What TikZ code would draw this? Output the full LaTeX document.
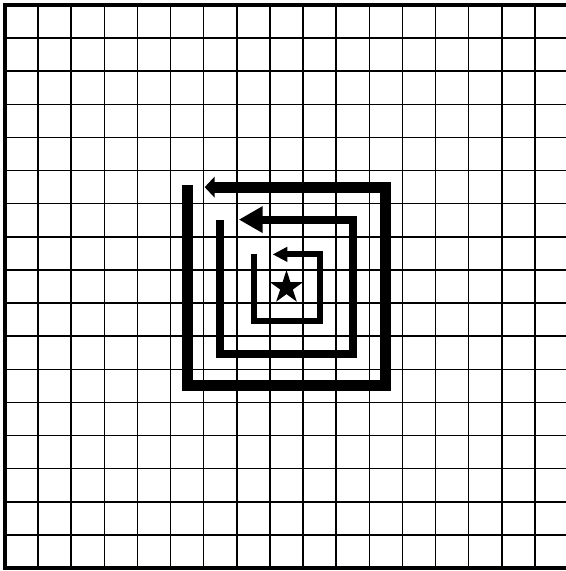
\documentclass[tikz,border=0pt]{standalone}
\usetikzlibrary{arrows.meta}
\begin{document}
\begin{tikzpicture}[
  gridline/.style={line width=1.3pt, black},
  frameline/.style={line width=3.4pt, black},
  outerspiral/.style={line width=0.332cm, -{Triangle[length=0.30cm,width=0.62cm]}},
  midspiral/.style={line width=0.245cm, -{Triangle[length=0.72cm,width=0.76cm]}},
  innerspiral/.style={line width=0.18cm, -{Triangle[length=0.45cm,width=0.43cm]}}
]
\useasboundingbox[fill=white] (-0.151,-0.0905) rectangle (16.923,17.151);
% grid
\foreach \i in {1,...,16} {
  \draw[gridline] (\i,0) -- (\i,17);
  \draw[gridline] (0,\i) -- (17,\i);
}
% frame
\draw[frameline] (17,17) -- (0,17) -- (0,0) -- (17,0);
% spirals
\draw[outerspiral] (5.5,11.57) -- (5.5,5.5) -- (11.5,5.5) -- (11.5,11.5) -- (6.03,11.5);
\draw[midspiral] (6.5,10.51) -- (6.5,6.47) -- (10.5,6.47) -- (10.5,10.52) -- (7.06,10.52);
\draw[innerspiral] (7.51,9.49) -- (7.51,7.47) -- (9.5,7.47) -- (9.5,9.47) -- (8.08,9.47);
% star
\fill[shift={(8.5,8.47)}] (90:0.53) -- (126:0.2) -- (162:0.53) -- (198:0.2)
  -- (234:0.53) -- (270:0.2) -- (306:0.53) -- (342:0.2) -- (18:0.53)
  -- (54:0.2) -- cycle;
\end{tikzpicture}
\end{document}
